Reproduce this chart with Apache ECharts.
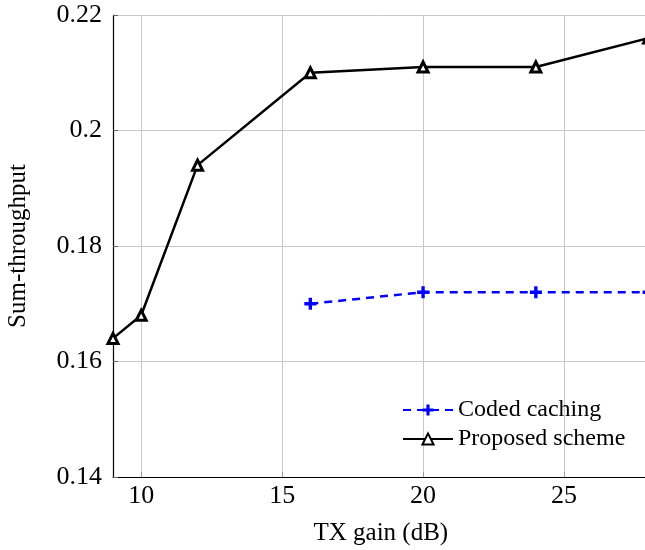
<!DOCTYPE html>
<html>
<head>
<meta charset="utf-8">
<script src="https://cdn.jsdelivr.net/npm/echarts@6/dist/echarts.min.js"></script>
<style>html,body{margin:0;padding:0;background:#fff}#c{width:645px;height:550px}</style>
</head>
<body>
<div id="c"></div>
<script>
const xProposed = [9, 10, 12, 16, 20, 24, 28];
const yProposed = [0.164, 0.168, 0.194, 0.210, 0.211, 0.211, 0.216];
const xCoded = [16, 20, 24, 28];
const yCoded = [0.170, 0.172, 0.172, 0.172];
const xTicks = [10, 15, 20, 25];
const seriesNames = ['Coded caching', 'Proposed scheme'];

const font = 'Liberation Serif, Times New Roman, serif';
const chart = echarts.init(document.getElementById('c'));
const plus = 'path://M-1.4,-5 L1.4,-5 L1.4,-1.4 L5,-1.4 L5,1.4 L1.4,1.4 L1.4,5 L-1.4,5 L-1.4,1.4 L-5,1.4 L-5,-1.4 L-1.4,-1.4Z';
chart.setOption({
  animation: false,
  grid: {left: 113, top: 15, bottom: 73, right: -3.6, containLabel: false, outerBoundsMode: 'none'},
  xAxis: {
    type: 'value', min: 9, max: 28,
    name: 'TX gain (dB)', nameLocation: 'middle', nameGap: 44,
    nameTextStyle: {fontFamily: font, fontSize: 25, color: '#000'},
    axisLine: {show: true, onZero: false, lineStyle: {color: '#000', width: 1.2}},
    axisTick: {show: true, inside: true, length: 5, customValues: xTicks, lineStyle: {color: '#999'}},
    axisLabel: {customValues: xTicks, fontFamily: font, fontSize: 26, color: '#000', margin: 6},
    splitLine: {show: true, lineStyle: {color: '#c8c8c8', width: 1}}
  },
  yAxis: {
    type: 'value', min: 0.14, max: 0.22, interval: 0.02,
    name: 'Sum-throughput', nameLocation: 'middle', nameGap: 82,
    nameTextStyle: {fontFamily: font, fontSize: 25, color: '#000'},
    axisLine: {show: true, onZero: false, lineStyle: {color: '#000', width: 1.2}},
    axisTick: {show: true, inside: true, length: 5, lineStyle: {color: '#666'}},
    axisLabel: {fontFamily: font, fontSize: 26, color: '#000', margin: 11,
      formatter: v => String(+v.toFixed(2))},
    splitLine: {show: true, lineStyle: {color: '#c8c8c8', width: 1}}
  },
  legend: {
    orient: 'vertical', left: 397, top: 393, itemGap: 5,
    itemWidth: 50, itemHeight: 14,
    textStyle: {fontFamily: font, fontSize: 24, color: '#000', padding: [0, 0, 0, 0]},
    data: seriesNames
  },
  series: [
    {
      name: seriesNames[0], type: 'line',
      data: xCoded.map((x, i) => [x, yCoded[i]]),
      symbol: plus, symbolSize: 12,
      lineStyle: {color: '#0000ff', width: 2.5, type: [8, 6]},
      itemStyle: {color: '#0000ff', borderWidth: 0},
      z: 3
    },
    {
      name: seriesNames[1], type: 'line',
      data: xProposed.map((x, i) => [x, yProposed[i]]),
      symbol: 'triangle', symbolSize: 10,
      lineStyle: {color: '#000', width: 2.5},
      itemStyle: {color: '#fff', borderColor: '#000', borderWidth: 3},
      z: 4
    }
  ]
});
</script>
</body>
</html>
